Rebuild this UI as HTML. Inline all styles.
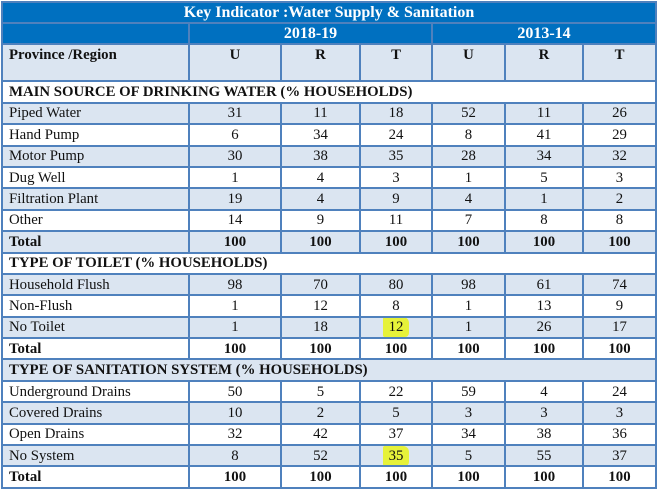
<!DOCTYPE html>
<html><head><meta charset="utf-8"><style>
body{margin:0;background:#fff;}
table{position:absolute;left:1px;top:1px;border-collapse:collapse;table-layout:fixed;font-family:"Liberation Serif",serif;font-size:14.8px;color:#111;}
td{border:2px solid #4f81bd;padding:0 0 0 6px;height:19.4px;line-height:16px;overflow:hidden;white-space:nowrap;}
td.n{text-align:center;padding:0;}
tr.b td{background:#dbe5f1;}
tr.w td{background:#fff;}
.t td{background:#0070c0;color:#fff;font-weight:bold;text-align:center;font-size:16px;padding:0;}
.b2 td,.w2 td{font-weight:bold;}
.hl{background:#e6f23a;padding:2px 6px;border-radius:2px 6px 4px 2px;}
</style></head><body>
<table>
<colgroup><col style="width:187px"><col style="width:92px"><col style="width:79px"><col style="width:72px"><col style="width:73px"><col style="width:78px"><col style="width:73px"></colgroup>
<tr class="t"><td colspan="7" style="height:19px">Key Indicator :Water Supply &amp; Sanitation</td></tr>
<tr class="t"><td style="height:18px"></td><td colspan="3">2018-19</td><td colspan="3">2013-14</td></tr>
<tr class="b" style="font-weight:bold"><td style="height:33px;vertical-align:top;padding-top:2px;font-weight:bold">Province /Region</td><td class="n" style="vertical-align:top;padding-top:2px;font-weight:bold">U</td><td class="n" style="vertical-align:top;padding-top:2px;font-weight:bold">R</td><td class="n" style="vertical-align:top;padding-top:2px;font-weight:bold">T</td><td class="n" style="vertical-align:top;padding-top:2px;font-weight:bold">U</td><td class="n" style="vertical-align:top;padding-top:2px;font-weight:bold">R</td><td class="n" style="vertical-align:top;padding-top:2px;font-weight:bold">T</td></tr>
<tr class="w"><td colspan="7" style="font-weight:bold">MAIN SOURCE OF DRINKING WATER (% HOUSEHOLDS)</td></tr>
<tr class="b"><td>Piped Water</td><td class="n">31</td><td class="n">11</td><td class="n">18</td><td class="n">52</td><td class="n">11</td><td class="n">26</td></tr>
<tr class="w"><td>Hand Pump</td><td class="n">6</td><td class="n">34</td><td class="n">24</td><td class="n">8</td><td class="n">41</td><td class="n">29</td></tr>
<tr class="b"><td>Motor Pump</td><td class="n">30</td><td class="n">38</td><td class="n">35</td><td class="n">28</td><td class="n">34</td><td class="n">32</td></tr>
<tr class="w"><td>Dug Well</td><td class="n">1</td><td class="n">4</td><td class="n">3</td><td class="n">1</td><td class="n">5</td><td class="n">3</td></tr>
<tr class="b"><td>Filtration Plant</td><td class="n">19</td><td class="n">4</td><td class="n">9</td><td class="n">4</td><td class="n">1</td><td class="n">2</td></tr>
<tr class="w"><td>Other</td><td class="n">14</td><td class="n">9</td><td class="n">11</td><td class="n">7</td><td class="n">8</td><td class="n">8</td></tr>
<tr class="b b2"><td>Total</td><td class="n">100</td><td class="n">100</td><td class="n">100</td><td class="n">100</td><td class="n">100</td><td class="n">100</td></tr>
<tr class="w"><td colspan="7" style="font-weight:bold">TYPE OF TOILET (% HOUSEHOLDS)</td></tr>
<tr class="b"><td>Household Flush</td><td class="n">98</td><td class="n">70</td><td class="n">80</td><td class="n">98</td><td class="n">61</td><td class="n">74</td></tr>
<tr class="w"><td>Non-Flush</td><td class="n">1</td><td class="n">12</td><td class="n">8</td><td class="n">1</td><td class="n">13</td><td class="n">9</td></tr>
<tr class="b"><td>No Toilet</td><td class="n">1</td><td class="n">18</td><td class="n"><span class="hl">12</span></td><td class="n">1</td><td class="n">26</td><td class="n">17</td></tr>
<tr class="w w2"><td>Total</td><td class="n">100</td><td class="n">100</td><td class="n">100</td><td class="n">100</td><td class="n">100</td><td class="n">100</td></tr>
<tr class="b"><td colspan="7" style="font-weight:bold">TYPE OF SANITATION SYSTEM (% HOUSEHOLDS)</td></tr>
<tr class="w"><td>Underground Drains</td><td class="n">50</td><td class="n">5</td><td class="n">22</td><td class="n">59</td><td class="n">4</td><td class="n">24</td></tr>
<tr class="b"><td>Covered Drains</td><td class="n">10</td><td class="n">2</td><td class="n">5</td><td class="n">3</td><td class="n">3</td><td class="n">3</td></tr>
<tr class="w"><td>Open Drains</td><td class="n">32</td><td class="n">42</td><td class="n">37</td><td class="n">34</td><td class="n">38</td><td class="n">36</td></tr>
<tr class="b"><td>No System</td><td class="n">8</td><td class="n">52</td><td class="n"><span class="hl">35</span></td><td class="n">5</td><td class="n">55</td><td class="n">37</td></tr>
<tr class="w w2"><td>Total</td><td class="n">100</td><td class="n">100</td><td class="n">100</td><td class="n">100</td><td class="n">100</td><td class="n">100</td></tr>
</table>
</body></html>
